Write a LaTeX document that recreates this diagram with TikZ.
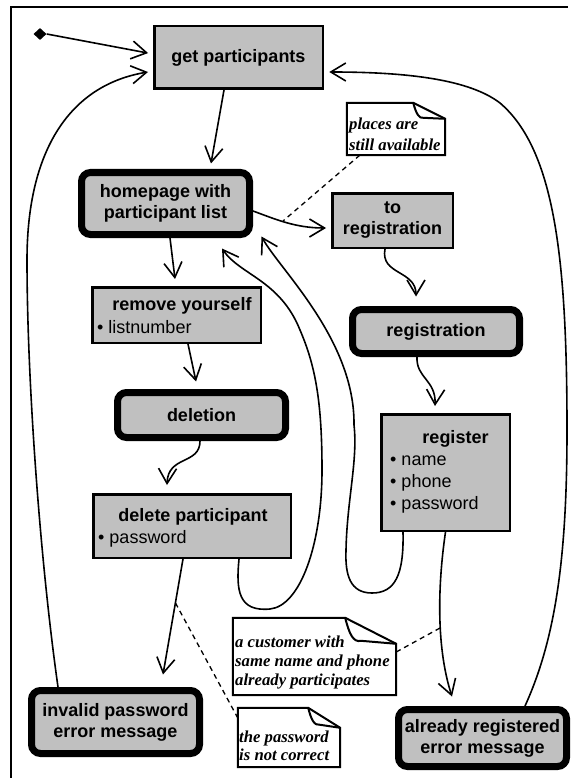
\documentclass[tikz,border=0pt]{standalone}
\usepackage{fontspec}
\setmainfont{Liberation Sans}
\newfontfamily\notefont{Liberation Serif}
\usetikzlibrary{arrows.meta,shapes.geometric}
\definecolor{boxgray}{RGB}{192,192,192}
\begin{document}
\begin{tikzpicture}[x=1pt,y=-1pt,
  act/.style={draw, fill=boxgray, line width=2.5pt, inner sep=0pt, align=center, font=\fontsize{18}{21}\selectfont\bfseries},
  st/.style={draw, fill=boxgray, line width=7pt, rounded corners=9pt, inner sep=0pt, align=center, font=\fontsize{18}{21}\selectfont\bfseries},
  lbl/.style={inner sep=0pt, anchor=base, font=\fontsize{18}{21}\selectfont\bfseries},
  item/.style={inner sep=0pt, anchor=base west, font=\fontsize{18}{21}\selectfont},
  note/.style={inner sep=0pt},
  ntxt/.style={inner sep=0pt, anchor=base west, font=\fontsize{16.7}{20}\selectfont\notefont\bfseries\itshape},
  nline/.style={line width=2pt, line join=miter},
  arr/.style={line width=1.6pt, -{Straight Barb[length=15pt,width=18pt]}},
  link/.style={line width=1.3pt, dash pattern=on 5pt off 4pt},
]
\useasboundingbox (0,0) rectangle (574,778);
\draw[line width=1.5pt] (11,778) -- (11,7) -- (568,7);

% start
\node[diamond, fill=black, minimum width=13pt, minimum height=12pt, inner sep=0pt] (start) at (40,34) {};

% activity boxes
\node[act, minimum width=168.5pt, minimum height=62.5pt] (getp) at (238.5,57.5) {get participants};
\node[st, minimum width=168pt, minimum height=62pt] (home) at (165.5,203.5) {homepage with\\participant list};
\node[act, minimum width=120.5pt, minimum height=54.5pt] (toreg) at (392.5,220.5) {to\\registration};
\node[act, minimum width=168.5pt, minimum height=55.5pt] (remove) at (176.5,315) {};
\node[lbl] (removeT) at (182,310) {remove yourself};
\node[item] (removeI) at (97,333) {• listnumber};
\node[st, minimum width=168pt, minimum height=45pt] (deletion) at (201.5,415) {deletion};
\node[act, minimum width=197.5pt, minimum height=63.5pt] (delp) at (192,526) {};
\node[lbl] (delpT) at (193,521) {delete participant};
\node[item] (delpI) at (98,543) {• password};
\node[st, minimum width=168pt, minimum height=63pt] (invalid) at (115.5,722) {invalid password\\error message};
\node[st, minimum width=167pt, minimum height=44pt] (registration) at (436,331.5) {registration};
\node[act, minimum width=128.5pt, minimum height=116.5pt] (register) at (445.5,472.5) {};
\node[lbl] (registerT) at (455.5,443) {register};
\node[item] (registerI1) at (390,465) {• name};
\node[item] (registerI2) at (390,487) {• phone};
\node[item] (registerI3) at (390,509) {• password};
\node[st, minimum width=168pt, minimum height=57pt] (already) at (482.5,738) {already registered\\error message};

% notes
\node[note, minimum width=98pt, minimum height=52pt] (places) at (396,129) {};
\coordinate (plP) at ([xshift=-32pt]places.north east);
\coordinate (plQ) at ([yshift=-16pt]places.north east);
\draw[nline, fill=white] (places.south west) -- (places.north west) -- (plP) -- (plQ) -- (places.south east) -- cycle;
\draw[nline] (plP) .. controls ([xshift=3pt,yshift=-11pt]plP) and ([xshift=6pt,yshift=-16pt]plP) .. ([xshift=10pt,yshift=-15pt]plP) -- (plQ);
\node[ntxt] (placesT1) at (349,130) {places are};
\node[ntxt] (placesT2) at (349,150) {still available};

\node[note, minimum width=163pt, minimum height=77pt] (customer) at (314.5,656.5) {};
\coordinate (cuP) at ([xshift=-51pt]customer.north east);
\coordinate (cuQ) at ([yshift=-26pt]customer.north east);
\draw[nline, fill=white] (customer.south west) -- (customer.north west) -- (cuP) -- (cuQ) -- (customer.south east) -- cycle;
\draw[nline] (cuP) .. controls ([xshift=4pt,yshift=-16pt]cuP) and ([xshift=8pt,yshift=-25pt]cuP) .. ([xshift=16pt,yshift=-23pt]cuP) -- (cuQ);
\node[ntxt] (customerT1) at (235,647) {a customer with};
\node[ntxt] (customerT2) at (235,666) {same name and phone};
\node[ntxt] (customerT3) at (235,685) {already participates};

\node[note, minimum width=102pt, minimum height=59pt] (pw) at (289,737.5) {};
\coordinate (pwP) at ([xshift=-32pt]pw.north east);
\coordinate (pwQ) at ([yshift=-20pt]pw.north east);
\draw[nline, fill=white] (pw.south west) -- (pw.north west) -- (pwP) -- (pwQ) -- (pw.south east) -- cycle;
\draw[nline] (pwP) .. controls ([xshift=3pt,yshift=-12pt]pwP) and ([xshift=6pt,yshift=-18pt]pwP) .. ([xshift=12pt,yshift=-17pt]pwP) -- (pwQ);
\node[ntxt] (pwT1) at (239,742) {the password};
\node[ntxt] (pwT2) at (239,760) {is not correct};

% connectors
\draw[arr, shorten >=5pt] (start.east) -- ([yshift=3.5pt]getp.west);
\draw[arr] ([xshift=-57.5pt]invalid.north) .. controls (40,560) and (27,380) .. (27,260)
  .. controls (27,150) and (70,85) .. ([yshift=-14.5pt,xshift=-5pt]getp.west);
\draw[arr] ([xshift=-14.5pt]getp.south) -- ([xshift=45.5pt,yshift=5.5pt]home.north);
\draw[arr] ([yshift=-7.5pt]home.east) .. controls (275,219) and (295,228) .. ([yshift=-7.5pt,xshift=-5pt]toreg.west);
\coordinate (c4) at (283,221);
\draw[link] ([xshift=13pt]places.south west) -- (c4);
\draw[arr] ([xshift=4.5pt]home.south) -- ([xshift=-1.5pt,yshift=7pt]remove.north);
\draw[arr] ([xshift=11.5pt]remove.south) -- ([xshift=-5.5pt,yshift=7.5pt]deletion.north);
\draw[arr] ([xshift=-1.5pt]deletion.south) .. controls (200,465) and (168,455) .. ([xshift=-25pt,yshift=8pt]delp.north);
\draw[arr] ([xshift=-7.5pt]toreg.south) .. controls (380,275) and (416,270) .. ([xshift=-20pt,yshift=9.5pt]registration.north);
\draw[arr] ([xshift=-19pt]registration.south) .. controls (416,378) and (436,380) .. ([xshift=-10.5pt,yshift=7pt]register.north);
\draw[arr] ([xshift=47pt]delp.south) .. controls (236,590) and (238,612) .. (270,609)
  .. controls (300,606) and (322,545) .. (322,470)
  .. controls (322,400) and (315,365) .. (300,330)
  .. controls (280,280) and (240,275) .. ([xshift=56.5pt,yshift=-10.5pt]home.south);
\draw[arr] ([xshift=-42.5pt]register.south) .. controls (404,575) and (395,593) .. (372,593)
  .. controls (350,593) and (345,575) .. (346,550)
  .. controls (347,500) and (358,460) .. (354,425)
  .. controls (355,340) and (280,270) .. ([xshift=8.5pt,yshift=1.5pt]home.south east);
\draw[arr] (register.south) .. controls (437,590) and (437,650) .. ([xshift=-30.5pt,yshift=9.5pt]already.north);
\coordinate (c12) at (440,628);
\draw[link] ([yshift=4.5pt]customer.east) -- (c12);
\draw[arr] ([xshift=42.5pt]already.north) .. controls (555,640) and (567,560) .. (567,430)
  .. controls (567,260) and (555,150) .. (500,103)
  .. controls (470,80) and (410,72) .. ([yshift=-14.5pt,xshift=5.25pt]getp.east);
\draw[arr] ([xshift=-9pt]delp.south) -- ([xshift=47.5pt,yshift=12.5pt]invalid.north);
\coordinate (c15) at (175.5,603);
\draw[link] (c15) -- ([yshift=19.5pt]pw.west);
\end{tikzpicture}
\end{document}
